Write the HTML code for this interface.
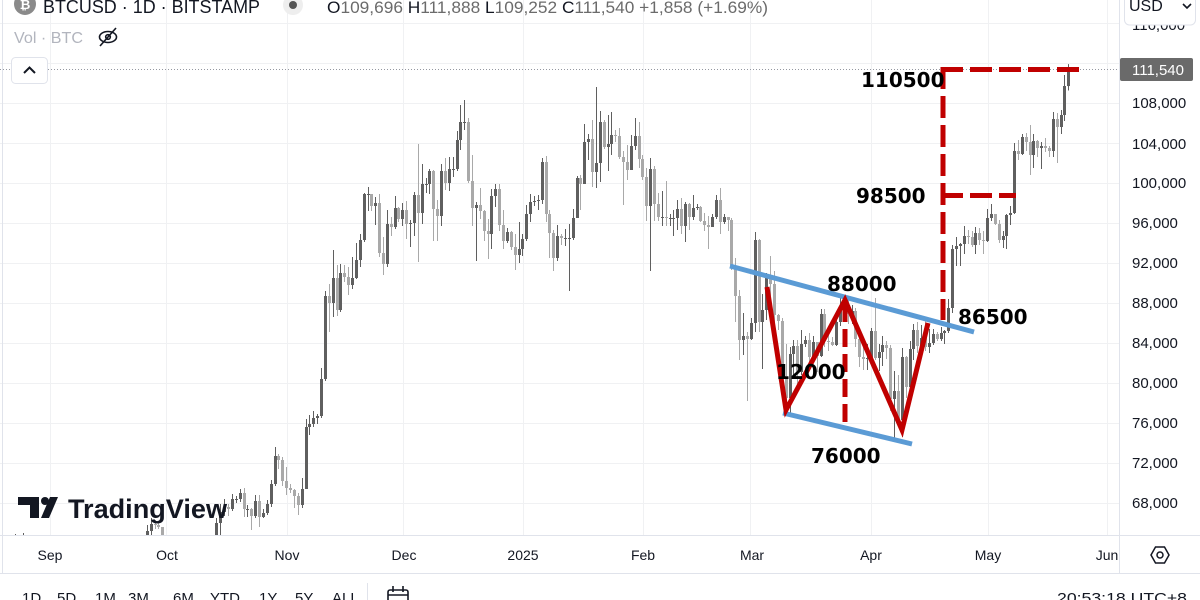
<!DOCTYPE html>
<html><head><meta charset="utf-8">
<style>
html,body{margin:0;padding:0;background:#fff;width:1200px;height:600px;overflow:hidden;}
svg{display:block;font-family:"Liberation Sans",sans-serif;}
.lbl{font-family:"DejaVu Sans","Liberation Sans",sans-serif;font-weight:bold;font-size:20px;fill:#000;}
</style></head><body>
<svg id="s" width="1200" height="600" viewBox="0 0 1200 600" xmlns="http://www.w3.org/2000/svg">
<defs><clipPath id="pane"><rect x="0" y="0" width="1119" height="535"/></clipPath></defs>
<rect width="1200" height="600" fill="#fff"/>
<g stroke="#f0f1f3" stroke-width="1">
<line x1="0" y1="23.5" x2="1119" y2="23.5"/><line x1="0" y1="63.5" x2="1119" y2="63.5"/>
<line x1="0" y1="103.5" x2="1119" y2="103.5"/><line x1="0" y1="143.5" x2="1119" y2="143.5"/>
<line x1="0" y1="183.5" x2="1119" y2="183.5"/><line x1="0" y1="223.5" x2="1119" y2="223.5"/>
<line x1="0" y1="263.5" x2="1119" y2="263.5"/><line x1="0" y1="303.5" x2="1119" y2="303.5"/>
<line x1="0" y1="343.5" x2="1119" y2="343.5"/><line x1="0" y1="383.5" x2="1119" y2="383.5"/>
<line x1="0" y1="423.5" x2="1119" y2="423.5"/><line x1="0" y1="463.5" x2="1119" y2="463.5"/>
<line x1="0" y1="503.5" x2="1119" y2="503.5"/>
<line x1="50.5" y1="0" x2="50.5" y2="535"/><line x1="166.5" y1="0" x2="166.5" y2="535"/>
<line x1="287.5" y1="0" x2="287.5" y2="535"/><line x1="403.5" y1="0" x2="403.5" y2="535"/>
<line x1="523.5" y1="0" x2="523.5" y2="535"/><line x1="643.5" y1="0" x2="643.5" y2="535"/>
<line x1="750.5" y1="0" x2="750.5" y2="535"/><line x1="871.5" y1="0" x2="871.5" y2="535"/>
<line x1="988.5" y1="0" x2="988.5" y2="535"/><line x1="1107.5" y1="0" x2="1107.5" y2="535"/>
</g>
<g id="candles" clip-path="url(#pane)"></g>
<line x1="0" y1="69.5" x2="1119" y2="69.5" stroke="#9598a1" stroke-width="1" stroke-dasharray="1 2"/>

<g stroke="#5b9bd5" stroke-width="5" fill="none">
<line x1="730" y1="266" x2="974" y2="332"/>
<line x1="783" y1="413" x2="912" y2="444"/>
</g>
<g stroke="#c00000" stroke-width="5" fill="none">
<polyline points="767,287 786,410 845,300 902,430 928,323" stroke-linejoin="miter"/>
<line x1="845" y1="304" x2="845" y2="428" stroke-dasharray="18 7"/>
<line x1="943" y1="67" x2="943" y2="320" stroke-dasharray="22 7"/>
<line x1="941" y1="195.5" x2="1016" y2="195.5" stroke-dasharray="22 7"/>
<line x1="941" y1="69.5" x2="1079" y2="69.5" stroke-dasharray="22 7"/>
</g>
<text class="lbl" x="861" y="87">110500</text>
<text class="lbl" x="856" y="203">98500</text>
<text class="lbl" x="827" y="291">88000</text>
<text class="lbl" x="958" y="324">86500</text>
<text class="lbl" x="776" y="379">12000</text>
<text class="lbl" x="811" y="463">76000</text>

<g fill="#131722">
<rect x="18" y="497" width="21" height="8"/>
<rect x="30" y="497" width="9" height="21"/>
<circle cx="45" cy="501" r="4"/>
<polygon points="50,497 58,497 49,518 41,518"/>
<text x="68" y="518" font-size="27" font-weight="bold" textLength="159" lengthAdjust="spacingAndGlyphs">TradingView</text>
</g>

<circle cx="25" cy="4" r="11" fill="#8a8a8a"/>
<text x="25" y="9" font-size="13" fill="#fff" text-anchor="middle" font-weight="bold">₿</text>
<text x="43" y="13" font-size="18" fill="#131722" textLength="217" lengthAdjust="spacingAndGlyphs">BTCUSD · 1D · BITSTAMP</text>
<circle cx="293" cy="5" r="10" fill="#eeeeee"/>
<circle cx="293" cy="5" r="4" fill="#555"/>
<text x="327" y="13" font-size="17" textLength="441" lengthAdjust="spacingAndGlyphs"><tspan fill="#131722">O</tspan><tspan fill="#6b6b6b">109,696</tspan><tspan fill="#131722"> H</tspan><tspan fill="#6b6b6b">111,888</tspan><tspan fill="#131722"> L</tspan><tspan fill="#6b6b6b">109,252</tspan><tspan fill="#131722"> C</tspan><tspan fill="#6b6b6b">111,540 +1,858 (+1.69%)</tspan></text>
<text x="14" y="43" font-size="16" fill="#b2b5be" textLength="69" lengthAdjust="spacingAndGlyphs">Vol · BTC</text>
<g stroke="#131722" stroke-width="1.6" fill="none">
<ellipse cx="108" cy="37" rx="8.5" ry="5.5"/>
<circle cx="108" cy="37" r="2.3"/>
<line x1="100" y1="46" x2="116" y2="28"/>
</g>
<rect x="11.5" y="57.5" width="36" height="26" rx="4" fill="#fff" stroke="#e0e3eb"/>
<polyline points="24,73 29.5,67.5 35,73" fill="none" stroke="#131722" stroke-width="2"/>

<line x1="2.5" y1="0" x2="2.5" y2="573" stroke="#e0e3eb"/>

<rect x="1120" y="0" width="80" height="573" fill="#fff"/>
<line x1="1119.5" y1="0" x2="1119.5" y2="573" stroke="#e0e3eb"/>
<g font-size="15" fill="#131722">
<text x="1132" y="30">116,000</text>
<text x="1132" y="108">108,000</text>
<text x="1132" y="149">104,000</text>
<text x="1132" y="188">100,000</text>
<text x="1132" y="228">96,000</text>
<text x="1132" y="268">92,000</text>
<text x="1132" y="308">88,000</text>
<text x="1132" y="348">84,000</text>
<text x="1132" y="388">80,000</text>
<text x="1132" y="428">76,000</text>
<text x="1132" y="468">72,000</text>
<text x="1132" y="508">68,000</text>
</g>
<rect x="1124.5" y="-6" width="71" height="31" rx="5" fill="#fff" stroke="#e0e3eb"/>
<text x="1129" y="11" font-size="16" fill="#131722">USD</text>
<polyline points="1183,4 1187,8 1191,4" fill="none" stroke="#131722" stroke-width="1.6"/>
<rect x="1120" y="58" width="73" height="23" rx="2" fill="#6a6a6a"/>
<text x="1132" y="75" font-size="15" fill="#fff">111,540</text>

<line x1="0" y1="535.5" x2="1200" y2="535.5" stroke="#e0e3eb"/>
<line x1="0" y1="573.5" x2="1200" y2="573.5" stroke="#e0e3eb"/>
<g font-size="14" fill="#131722" text-anchor="middle">
<text x="50" y="560">Sep</text>
<text x="167" y="560">Oct</text>
<text x="287" y="560">Nov</text>
<text x="404" y="560">Dec</text>
<text x="523" y="560">2025</text>
<text x="643" y="560">Feb</text>
<text x="752" y="560">Mar</text>
<text x="871" y="560">Apr</text>
<text x="988" y="560">May</text>
<text x="1107" y="560">Jun</text>
</g>
<g fill="none" stroke="#131722" stroke-width="1.5">
<polygon points="1151,555 1155.5,547 1164.5,547 1169,555 1164.5,563 1155.5,563"/>
<circle cx="1160" cy="555" r="3"/>
</g>

<g font-size="15" fill="#131722">
<text x="22" y="603">1D</text>
<text x="57" y="603">5D</text>
<text x="95" y="603">1M</text>
<text x="128" y="603">3M</text>
<text x="173" y="603">6M</text>
<text x="210" y="603">YTD</text>
<text x="259" y="603">1Y</text>
<text x="295" y="603">5Y</text>
<text x="332" y="603">ALL</text>
<text x="1057" y="603" textLength="130" lengthAdjust="spacingAndGlyphs">20:53:18 UTC+8</text>
</g>
<line x1="367.5" y1="583" x2="367.5" y2="600" stroke="#e0e3eb"/>
<g fill="none" stroke="#131722" stroke-width="1.6">
<rect x="388" y="590" width="20" height="14" rx="2"/>
<line x1="393" y1="586" x2="393" y2="592"/>
<line x1="403" y1="586" x2="403" y2="592"/>
<line x1="388" y1="595" x2="408" y2="595"/>
</g>
</svg>
<script>
(function(){
var D=[
[58.9,60.3,58.4],[59.4,59.6,57.8],[59.0,61.4,58.6],[61.2,61.8,58.8],[60.4,61.4,59.8],[64.1,64.9,60.4],[64.2,64.5,63.6],[64.2,65.0,63.8],[62.8,64.5,62.8],[59.4,63.2,58.1],[59.0,60.2,57.9],[59.4,61.2,58.8],[59.1,59.9,57.7],[58.9,59.4,58.8],
[57.3,59.0,57.2],[59.1,59.4,57.1],[57.5,59.8,57.4],[58.0,58.5,55.6],[56.2,58.3,55.7],[53.9,56.9,52.6],[54.2,54.8,53.8],[54.9,55.3,53.6],[57.0,58.1,54.6],[57.6,58.0,56.4],[57.3,57.9,55.6],[58.1,58.6,57.3],[60.5,60.7,57.6],[60.0,60.6,59.5],[59.2,60.4,58.7],[58.2,59.2,57.5],[60.3,61.3,57.7],[61.7,61.8,59.2],[62.9,63.8,61.6],[63.2,64.1,62.4],[63.6,63.7,62.8],[63.3,64.0,62.4],[63.3,64.8,62.8],[64.3,64.6,62.7],[63.1,64.8,62.8],[65.2,65.8,62.8],[65.9,66.5,64.8],[65.8,66.3,65.4],[65.6,66.1,65.4],[63.3,65.6,62.9],
[60.8,64.1,60.3],[60.6,62.4,59.9],[60.7,61.5,59.9],[62.1,62.5,60.5],[62.1,62.4,61.7],[62.8,63.0,62.0],[62.2,64.5,62.1],[62.1,63.2,61.8],[60.6,62.5,60.4],[60.3,61.3,58.9],[62.5,63.4,60.1],[63.2,63.5,62.4],[62.8,63.3,62.1],[66.0,66.5,62.4],[67.1,67.9,64.8],[67.6,68.4,66.7],[67.4,67.9,66.7],[68.4,68.9,67.2],[68.4,68.7,68.0],[69.0,69.4,68.1],[67.4,69.5,66.6],[67.4,67.8,66.6],[66.7,67.5,65.3],[68.2,68.8,66.5],[66.6,68.8,65.6],[67.0,67.4,66.5],[67.9,68.3,66.8],[69.9,70.3,67.6],[72.7,73.6,69.7],[72.3,72.9,71.4],[70.2,72.6,69.7],
[69.5,71.6,68.8],[69.3,69.9,69.0],[68.7,69.4,67.5],[67.8,69.0,66.8],[69.4,70.5,67.5],[75.6,76.4,69.4],[75.9,76.8,74.8],[76.5,77.2,75.6],[76.7,76.9,75.9],[80.4,81.5,76.5],[88.7,89.2,80.2],[88.0,89.9,85.1],[90.5,93.3,86.6],[87.3,91.8,86.7],[91.0,91.9,87.1],[90.6,91.8,90.1],[89.8,91.6,88.8],[90.5,92.6,89.4],[92.3,94.0,90.4],[94.3,94.9,91.6],[98.9,99.0,94.1],[98.9,99.6,97.2],[97.7,98.9,97.2],[98.0,98.6,95.8],[93.0,98.9,92.6],[91.9,94.6,90.8],[95.9,97.3,91.6],[95.6,96.6,94.7],[97.5,98.7,95.4],[96.4,97.6,96.1],
[97.3,98.0,95.7],[95.9,98.2,94.4],[96.0,96.3,93.6],[98.8,99.1,94.7],[97.0,103.9,92.1],[99.9,101.9,95.9],[99.9,100.5,99.0],[101.2,101.4,98.9],[97.4,101.3,94.2],[96.7,98.3,94.2],[101.2,101.9,95.7],[100.0,102.5,99.3],[101.4,102.6,99.2],[101.4,102.6,100.6],[104.3,105.2,101.2],[106.1,107.8,103.3],[106.1,108.3,105.3],[100.2,106.5,100.0],[97.5,102.8,95.7],[97.8,98.1,92.2],[97.2,99.5,96.4],[95.2,97.3,94.2],[94.9,96.4,92.4],[98.7,99.4,93.4],[99.4,99.9,97.6],[95.8,99.9,95.2],[94.2,97.3,93.4],[95.1,95.5,94.0],[93.6,95.2,93.3],[92.8,94.9,91.3],[93.4,96.1,92.0],
[94.4,94.9,92.7],[96.9,97.8,94.2],[98.1,98.9,96.1],[98.2,98.7,97.7],[98.3,98.8,97.3],[102.1,102.5,97.9],[96.9,102.7,96.1],[95.0,97.3,92.5],[92.5,95.3,91.2],[94.7,95.8,92.2],[94.5,94.9,93.8],[94.5,95.4,93.7],[94.5,95.9,89.2],[96.5,97.4,94.3],[100.5,100.7,96.5],[99.9,100.8,97.3],[104.1,105.9,99.9],[104.4,104.9,102.3],[101.1,106.3,99.6],[102.0,109.6,99.5],[106.1,107.2,100.1],[103.6,106.3,103.4],[103.9,106.8,101.2],[104.8,107.1,102.8],[104.7,105.3,104.1],[102.6,105.5,102.4],[102.1,103.2,97.8],[101.3,103.8,100.3],[103.7,104.8,101.3],[104.7,106.5,103.3],[102.4,106.1,101.5],
[100.6,102.8,100.3],[97.7,101.5,96.2],[101.4,102.5,91.2],[97.9,101.7,96.2],[96.6,99.0,96.2],[96.6,99.2,95.7],[96.5,100.2,95.7],[96.5,96.9,95.7],[96.5,97.3,94.7],[97.4,98.3,95.3],[95.7,98.5,94.9],[97.9,98.1,94.1],[96.6,98.0,95.3],[97.5,98.8,96.3],[97.6,97.9,97.3],[96.2,97.7,96.1],[95.8,97.0,95.2],[95.6,96.7,93.4],[96.6,96.9,95.6],[98.3,98.8,96.4],[96.1,99.5,94.9],[96.6,96.9,95.9],[96.3,96.6,95.2],[91.5,96.5,91.3],[88.7,92.5,86.1],[84.3,89.3,82.3],[84.7,87.0,82.8],[84.4,85.1,78.2],
[86.0,86.5,84.3],[94.3,95.1,85.1],[86.1,94.4,85.1],[87.3,88.9,81.4],[90.6,91.0,86.3],[89.9,92.7,87.9],[86.8,91.2,84.7],[86.2,86.9,85.3],[80.7,86.5,80.1],[78.5,83.9,77.5],[82.9,83.6,76.6],[83.7,84.3,80.8],[81.1,84.3,79.9],[83.9,85.3,80.8],[84.3,84.7,83.6],[82.6,85.0,82.0],[84.1,84.7,82.4],[82.7,84.0,81.1],[86.9,87.4,82.6],[84.2,87.4,83.6],[84.1,84.8,83.2],[83.8,84.6,83.7],[86.1,86.3,83.7],[87.5,88.8,85.7],[87.4,88.5,86.3],[86.9,88.3,85.9],[87.2,87.8,85.9],[84.4,87.5,83.6],[82.6,84.6,81.6],[82.4,83.9,81.3],[82.5,83.9,81.3],
[85.2,85.5,82.4],[82.5,88.5,82.3],[83.1,83.9,81.2],[83.8,84.7,81.7],[83.5,84.2,82.4],[78.4,83.8,77.2],[79.2,81.2,74.5],[76.3,80.8,76.2],[82.6,83.5,74.6],[79.6,82.7,78.5],[83.4,84.2,78.9],[85.3,85.9,82.3],[83.7,86.1,83.0],[84.5,85.8,83.7],[83.6,86.4,83.2],[84.0,85.4,83.0],[84.9,85.4,83.8],[84.4,85.1,84.2],[85.0,85.6,84.2],[85.2,85.3,83.9],[87.5,88.4,85.0],[93.4,93.8,87.0],[93.7,94.6,91.7],[93.9,94.0,91.7],[94.7,95.7,92.9],[94.6,95.3,93.9],[93.8,95.2,93.6],[95.0,95.6,92.9],[94.3,95.5,93.8],[94.2,95.2,92.9],
[96.5,97.4,94.1],[96.9,97.9,96.2],[95.9,96.9,95.8],[94.3,96.3,94.0],[94.7,95.2,93.5],[96.8,96.9,93.4],[97.0,97.7,95.8],[103.2,104.0,96.9],[102.9,104.3,102.3],[104.6,104.9,102.8],[104.1,105.0,103.2],[102.8,105.8,100.8],[104.2,104.9,101.5],[103.5,104.3,102.6],[103.7,104.1,101.4],[103.5,104.5,103.1],[103.2,103.7,102.6],[106.4,107.1,102.6],[105.6,107.0,102.0],[106.8,107.3,104.9],[109.7,110.8,106.2],[111.54,111.888,109.252]
];
var NS="http://www.w3.org/2000/svg";
var g=document.getElementById("candles");
var prev=59.5;
function Y(p){return 103+(108-p)*10;}
function R(x,y,w,h,c){var r=document.createElementNS(NS,"rect");r.setAttribute("x",x);r.setAttribute("y",y);r.setAttribute("width",w);r.setAttribute("height",h);r.setAttribute("fill",c);g.appendChild(r);}
for(var i=0;i<D.length;i++){
 var c=D[i][0],h=D[i][1],l=D[i][2],o=prev;
 if(i===D.length-1){o=109.696;}
 h=Math.max(h,o,c);l=Math.min(l,o,c);
 var x=Math.round(50+3.872*(i-14));
 var up=c>=o;var col=up?"#5f5f5f":"#a9a9a9";
 var yt=Y(Math.max(o,c)),yb=Y(Math.min(o,c));
 R(x,Y(h),1,Math.max(1,Y(l)-Y(h)),col);
 R(x-1,yt,3,Math.max(1,yb-yt),col);
 prev=c;
}
})();
</script>
</body></html>
